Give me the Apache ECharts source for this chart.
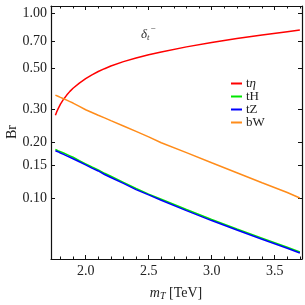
<!DOCTYPE html>
<html>
<head>
<meta charset="utf-8">
<script src="https://cdn.jsdelivr.net/npm/echarts@6/dist/echarts.min.js"></script>
<style>html,body{margin:0;padding:0;background:#fff}#c{width:305px;height:305px}</style>
</head>
<body>
<div id="c"></div>
<script>
const mT     = [1.76, 1.77, 1.78, 1.79, 1.8, 1.825, 1.85, 1.875, 1.9, 1.95, 2.0, 2.05, 2.1, 2.15, 2.2, 2.3, 2.4, 2.5, 2.6, 2.8, 3.0, 3.2, 3.4, 3.6, 3.7];
const brTEta = [0.280, 0.292, 0.302, 0.312, 0.322, 0.342, 0.360, 0.377, 0.392, 0.418, 0.442, 0.463, 0.483, 0.500, 0.517, 0.546, 0.571, 0.595, 0.616, 0.656, 0.693, 0.728, 0.760, 0.792, 0.809];
const brTH   = [0.183, 0.1815, 0.180, 0.179, 0.178, 0.175, 0.172, 0.169, 0.166, 0.159, 0.153, 0.147, 0.142, 0.136, 0.131, 0.1215, 0.1125, 0.105, 0.0985, 0.0866, 0.0765, 0.068, 0.0607, 0.0542, 0.0511];
const brTZ   = [0.180, 0.179, 0.178, 0.1765, 0.175, 0.172, 0.169, 0.166, 0.163, 0.157, 0.151, 0.145, 0.140, 0.134, 0.129, 0.120, 0.111, 0.104, 0.0972, 0.0855, 0.0755, 0.0671, 0.0599, 0.0535, 0.0504];
const brBW   = [0.360, 0.357, 0.355, 0.352, 0.350, 0.344, 0.338, 0.332, 0.326, 0.313, 0.300, 0.290, 0.280, 0.271, 0.262, 0.245, 0.229, 0.214, 0.199, 0.176, 0.155, 0.137, 0.121, 0.107, 0.100];
const seriesNames = ['tη', 'tH', 'tZ', 'bW'];
const xMajorTicks = [2.0, 2.5, 3.0, 3.5];
const xMinorTicks = [1.8, 1.9, 2.1, 2.2, 2.3, 2.4, 2.6, 2.7, 2.8, 2.9, 3.1, 3.2, 3.3, 3.4, 3.6, 3.7];
const yTicks = [0.10, 0.15, 0.20, 0.30, 0.50, 0.70, 1.00];
const yTickLabels = ['0.10', '0.15', '0.20', '0.30', '0.50', '0.70', '1.00'];

const X_MIN = 1.725, X_MAX = 3.717;
const Y_MIN = 0.0468, Y_MAX = 1.091;
const lg = v => Math.log10(v);
const FONT = 'Liberation Serif';
const black = '#111';

function yLabel(v) {
  let best = 0, bd = Infinity;
  yTicks.forEach((t, i) => { const d = Math.abs(lg(t) - v); if (d < bd) { bd = d; best = i; } });
  return yTickLabels[best];
}

function xAxisCfg(pos, ticks, len, showLabel, showLine) {
  return {
    type: 'value', position: pos, min: X_MIN, max: X_MAX,
    splitLine: {show: false},
    axisLine: {show: showLine, onZero: false, lineStyle: {color: black, width: 1.2}},
    axisTick: {show: true, inside: true, length: len, customValues: ticks, lineStyle: {color: black, width: 1}},
    axisLabel: {show: showLabel, customValues: ticks, fontFamily: FONT, fontSize: 14, color: '#222', margin: 5,
      hideOverlap: false, formatter: v => Number(v).toFixed(1)}
  };
}
function yAxisCfg(pos, showLabel) {
  return {
    type: 'value', position: pos, min: lg(Y_MIN), max: lg(Y_MAX),
    splitLine: {show: false},
    axisLine: {show: true, onZero: false, lineStyle: {color: black, width: 1.2}},
    axisTick: {show: true, inside: true, length: 4, customValues: yTicks.map(lg), lineStyle: {color: black, width: 1}},
    axisLabel: {show: showLabel, customValues: yTicks.map(lg), fontFamily: FONT, fontSize: 14, color: '#222', margin: 4,
      hideOverlap: false, overflow: 'none', formatter: yLabel}
  };
}

const xAxes = [
  xAxisCfg('bottom', xMajorTicks, 4, true, true),
  xAxisCfg('bottom', xMinorTicks, 2.5, false, false),
  xAxisCfg('top', xMajorTicks, 4, false, true),
  xAxisCfg('top', xMinorTicks, 2.5, false, false)
];
const yAxes = [yAxisCfg('left', true), yAxisCfg('right', false)];

const colors = ['#ff0000', '#00e600', '#0000ff', '#ff8c1a'];
const datasets = [brTEta, brTH, brTZ, brBW];

const option = {
  animation: false,
  grid: {left: 51, right: 3, top: 6, bottom: 46, outerBoundsMode: 'none', containLabel: false},
  xAxis: xAxes,
  yAxis: yAxes,
  legend: {
    orient: 'vertical', left: 231, top: 77, padding: 0, icon: 'rect', itemWidth: 11, itemHeight: 2,
    itemGap: 0, data: seriesNames,
    textStyle: {fontFamily: FONT, fontSize: 13, color: '#222', lineHeight: 12, padding: [0, 0, 0, -1],
      rich: {i: {fontFamily: FONT, fontStyle: 'italic', fontSize: 13, color: '#222', lineHeight: 12}}},
    formatter: n => n === 'tη' ? 't{i|η}' : n
  },
  graphic: [
    {type: 'text', left: 141, top: 28, style: {text: 'δ', font: 'italic 13px "Liberation Serif"', fill: '#333'}},
    {type: 'text', left: 147, top: 33, style: {text: 't', font: 'italic 9px "Liberation Serif"', fill: '#333'}},
    {type: 'text', left: 150.5, top: 24, style: {text: '−', font: '9px "Liberation Serif"', fill: '#333'}},
    {type: 'text', x: 12, y: 132, rotation: Math.PI / 2,
      style: {text: 'Br', font: '14px "Liberation Serif"', fill: '#222', align: 'center', verticalAlign: 'middle'}},
    {type: 'text', x: 176, y: 293,
      style: {text: '{i|m}{s|T} [TeV]', font: '14px "Liberation Serif"', fill: '#222', align: 'center', verticalAlign: 'middle',
        rich: {i: {font: 'italic 14px "Liberation Serif"', fill: '#222'},
               s: {font: 'italic 10px "Liberation Serif"', fill: '#222', padding: [7, 0, 0, 0]}}}}
  ],
  series: seriesNames.map((n, i) => ({
    name: n, type: 'line', xAxisIndex: 0, yAxisIndex: 0,
    data: mT.map((x, k) => [x, lg(datasets[i][k])]),
    showSymbol: false, smooth: false,
    lineStyle: {color: colors[i], width: 1.5},
    itemStyle: {color: colors[i]}
  }))
};
const chart = echarts.init(document.getElementById('c'), null, {renderer: 'canvas'});
chart.setOption(option);
</script>
</body>
</html>
